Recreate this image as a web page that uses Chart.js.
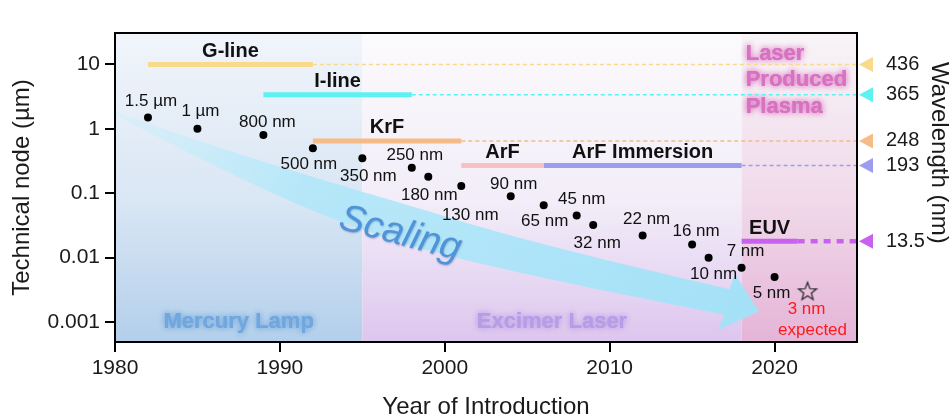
<!DOCTYPE html>
<html lang="en">
<head>
<meta charset="UTF-8">
<title>Lithography node scaling</title>
<style>
  html, body { margin: 0; padding: 0; background: #fff; }
</style>
</head>
<body>
<canvas id="chart" width="952" height="419"></canvas>
<script src="https://cdn.jsdelivr.net/npm/chart.js"></script>
<script>
// technology nodes
const years = [1982, 1985, 1989, 1992, 1995, 1998, 1999, 2001, 2004, 2006, 2008, 2009, 2012, 2015, 2016, 2018, 2020];
const nodes = [1.5, 1, 0.8, 0.5, 0.35, 0.25, 0.18, 0.13, 0.09, 0.065, 0.045, 0.032, 0.022, 0.016, 0.01, 0.007, 0.005];
const nodeLabels = ['1.5 µm', '1 µm', '800 nm', '500 nm', '350 nm', '250 nm', '180 nm', '130 nm', '90 nm',
  '65 nm', '45 nm', '32 nm', '22 nm', '16 nm', '10 nm', '7 nm', '5 nm'];
const expectedYear = [2022];
const expectedNode = [0.003];

// light sources
const sources = ['G-line', 'I-line', 'KrF', 'ArF', 'ArF Immersion', 'EUV'];
const sourceStart = [1982, 1989, 1992, 2001, 2006, 2018];
const sourceEnd = [1992, 1998, 2001, 2006, 2018, 2021.4];
const sourceLevel = [10, 3.4, 0.65, 0.27, 0.27, 0.018];

// wavelengths (right side)
const wavelengths = ['436', '365', '248', '193', '13.5'];
const wavelengthLevel = [10, 3.4, 0.65, 0.27, 0.018];
const wavelengthFrom = [1992, 1998, 2001, 2018, 2021.4];

// eras
const eras = ['Mercury Lamp', 'Excimer Laser', 'Laser Produced Plasma'];
const eraStart = [1980, 1995, 2018];
const eraEnd = [1995, 2018, 2025];

const xTicks = [1980, 1990, 2000, 2010, 2020];
const yTicks = [0.001, 0.01, 0.1, 1, 10];
const yTickLabels = ['0.001', '0.01', '0.1', '1', '10'];

const FONT = "'Liberation Sans', Arial, sans-serif";
const sourceColors = ['#f9d98a', '#5cf2f4', '#f6bb86', '#f7c0c2', '#9d9cf1', '#c862ee'];
const waveColors = ['#f9d98a', '#5cf2f4', '#f6bb86', '#9d9cf1', '#c862ee'];

// label offsets from each dot, px
const labelOffsets = [[3, -16], [3, -18], [4, -13], [-4, 16], [6, 18], [3, -12], [1, 18], [9, 29], [3, -12],
  [1, 16], [5, -16], [4, 18], [4, -16], [4, -13], [5, 17], [4, -16], [-3, 16]];

// star marker
const star = document.createElement('canvas');
star.width = 24; star.height = 24;
(function () {
  const c = star.getContext('2d');
  c.beginPath();
  for (let i = 0; i < 10; i++) {
    const r = i % 2 === 0 ? 9.5 : 4;
    const a = -Math.PI / 2 + i * Math.PI / 5;
    const px = 12 + r * Math.cos(a), py = 12.5 + r * Math.sin(a);
    if (i === 0) c.moveTo(px, py); else c.lineTo(px, py);
  }
  c.closePath();
  c.strokeStyle = '#222';
  c.lineWidth = 1.2;
  c.stroke();
})();

const datasets = [];
datasets.push({
  data: years.map((y, i) => ({ x: y, y: nodes[i] })),
  pointRadius: 4, pointBackgroundColor: '#000', pointBorderWidth: 0, showLine: false
});
datasets.push({
  data: expectedYear.map((y, i) => ({ x: y, y: expectedNode[i] })),
  pointStyle: star, pointRadius: 10, showLine: false
});
sources.forEach((s, i) => datasets.push({
  data: [{ x: sourceStart[i], y: sourceLevel[i] }, { x: sourceEnd[i], y: sourceLevel[i] }],
  showLine: true, borderColor: sourceColors[i], borderWidth: 5, pointRadius: 0, borderCapStyle: 'butt'
}));
wavelengths.forEach((w, j) => datasets.push({
  data: [{ x: wavelengthFrom[j], y: wavelengthLevel[j] }, { x: 2025, y: wavelengthLevel[j] }],
  showLine: true, borderColor: waveColors[j], pointRadius: 0,
  borderWidth: j === 4 ? 4.5 : 1.5, borderDash: j === 4 ? [7, 6] : [4, 3]
}));

function glowText(ctx, text, x, y, color, glow) {
  ctx.save();
  ctx.shadowColor = glow;
  ctx.shadowBlur = 6;
  ctx.fillStyle = color;
  ctx.fillText(text, x, y);
  ctx.fillText(text, x, y);
  ctx.restore();
}

const decor = {
  id: 'decor',
  beforeDatasetsDraw(chart) {
    const { ctx, chartArea: a } = chart;
    const X = v => chart.scales.x.getPixelForValue(v);
    const Y = v => chart.scales.y.getPixelForValue(v);
    ctx.save();
    ctx.beginPath();
    ctx.rect(a.left, a.top, a.width, a.height);
    ctx.clip();

    // era backgrounds
    const stops = [
      ['#f1f5fb', '#d9e6f4', '#b3cfeb'],
      ['#fbfafc', '#f2edf8', '#ddc6ee'],
      ['#f8f4f7', '#f0d9ea', '#e5b4d7']
    ];
    eras.forEach((e, i) => {
      const g = ctx.createLinearGradient(0, a.top, 0, a.bottom);
      g.addColorStop(0, stops[i][0]);
      g.addColorStop(0.55, stops[i][1]);
      g.addColorStop(1, stops[i][2]);
      ctx.fillStyle = g;
      ctx.fillRect(X(eraStart[i]), a.top, X(eraEnd[i]) - X(eraStart[i]), a.height);
    });

    // scaling arrow (cubic path in data space)
    const P = [[1980, 1.76], [1995.2, 0.0333], [2001.9, 0.0143], [2017.1, 0.00205]].map(p => [X(p[0]), Y(p[1])]);
    const tip = [X(2019.06), Y(0.00146)];
    const bez = t => {
      const u = 1 - t;
      const b = [u * u * u, 3 * u * u * t, 3 * u * t * t, t * t * t];
      return [b[0] * P[0][0] + b[1] * P[1][0] + b[2] * P[2][0] + b[3] * P[3][0],
              b[0] * P[0][1] + b[1] * P[1][1] + b[2] * P[2][1] + b[3] * P[3][1]];
    };
    const half = t => t < 0.5 ? 1.5 + 17.5 * Math.sin(t / 0.5 * Math.PI / 2) : 19 - 6 * (t - 0.5) / 0.5;
    const up = [], lo = [];
    const N = 60;
    for (let k = 0; k <= N; k++) {
      const t = k / N;
      const p = bez(t);
      const q = bez(Math.min(1, t + 0.005)), r = bez(Math.max(0, t - 0.005));
      let dx = q[0] - r[0], dy = q[1] - r[1];
      const L = Math.hypot(dx, dy); dx /= L; dy /= L;
      const w = half(t);
      up.push([p[0] + dy * w, p[1] - dx * w]);
      lo.push([p[0] - dy * w, p[1] + dx * w]);
    }
    const end = P[3];
    let hx = tip[0] - end[0], hy = tip[1] - end[1];
    const HL = Math.hypot(hx, hy); hx /= HL; hy /= HL;
    const grad = ctx.createLinearGradient(P[0][0], P[0][1], tip[0], tip[1]);
    grad.addColorStop(0, 'rgba(205,240,251,0.45)');
    grad.addColorStop(0.3, 'rgba(175,231,249,0.85)');
    grad.addColorStop(1, 'rgba(160,226,248,0.95)');
    ctx.beginPath();
    up.forEach((p, k) => k === 0 ? ctx.moveTo(p[0], p[1]) : ctx.lineTo(p[0], p[1]));
    ctx.lineTo(end[0] + hy * 29, end[1] - hx * 29);
    ctx.lineTo(tip[0], tip[1]);
    ctx.lineTo(end[0] - hy * 29, end[1] + hx * 29);
    for (let k = lo.length - 1; k >= 0; k--) ctx.lineTo(lo[k][0], lo[k][1]);
    ctx.closePath();
    ctx.fillStyle = grad;
    ctx.fill();

    // Scaling text
    ctx.save();
    ctx.translate(X(1997.3), Y(0.0233));
    ctx.rotate(15 * Math.PI / 180);
    ctx.font = `italic 38px ${FONT}`;
    ctx.textAlign = 'center';
    ctx.textBaseline = 'middle';
    ctx.shadowColor = 'rgba(30,70,130,0.35)';
    ctx.shadowBlur = 2;
    ctx.shadowOffsetX = 0.5;
    ctx.shadowOffsetY = 1;
    ctx.fillStyle = '#4f93d8';
    ctx.fillText('Scaling', 0, 0);
    ctx.restore();

    // era labels
    ctx.font = `bold 22px ${FONT}`;
    ctx.textAlign = 'center';
    ctx.textBaseline = 'middle';
    glowText(ctx, eras[0], X((eraStart[0] + eraEnd[0]) / 2), Y(0.001), '#72a7dd', 'rgba(114,167,221,0.8)');
    glowText(ctx, eras[1], X((eraStart[1] + eraEnd[1]) / 2), Y(0.001), '#b79de6', 'rgba(183,157,230,0.8)');
    ctx.textAlign = 'left';
    const lpp = ['Laser', 'Produced', 'Plasma'];
    lpp.forEach((t, k) => glowText(ctx, t, X(2018.25), Y(14.7) + k * 26.5, '#d872c0', 'rgba(216,114,192,0.8)'));
    ctx.restore();
  },
  afterDatasetsDraw(chart) {
    const { ctx, chartArea: a } = chart;
    const X = v => chart.scales.x.getPixelForValue(v);
    const Y = v => chart.scales.y.getPixelForValue(v);
    ctx.save();
    ctx.textAlign = 'center';
    ctx.textBaseline = 'middle';

    // node labels
    ctx.font = `17px ${FONT}`;
    ctx.fillStyle = '#111';
    nodeLabels.forEach((t, i) => {
      ctx.fillText(t, X(years[i]) + labelOffsets[i][0], Y(nodes[i]) + labelOffsets[i][1]);
    });
    ctx.fillStyle = '#ff1a1a';
    const ex = X(expectedYear[0]), ey = Y(expectedNode[0]);
    ctx.fillText('3 nm', ex - 1, ey + 18);
    ctx.fillText('expected', ex + 5, ey + 39);

    // source labels
    ctx.font = `bold 20px ${FONT}`;
    ctx.fillStyle = '#111';
    sources.forEach((s, i) => {
      ctx.fillText(s, (X(sourceStart[i]) + X(sourceEnd[i])) / 2, Y(sourceLevel[i]) - 13);
    });

    // frame
    ctx.strokeStyle = '#000';
    ctx.lineWidth = 2;
    ctx.strokeRect(a.left, a.top, a.width, a.height);

    // wavelength markers
    wavelengthLevel.forEach((v, j) => {
      const y = Y(v);
      ctx.beginPath();
      ctx.moveTo(a.right + 2, y);
      ctx.lineTo(a.right + 16, y - 7.5);
      ctx.lineTo(a.right + 16, y + 7.5);
      ctx.closePath();
      ctx.fillStyle = waveColors[j];
      ctx.fill();
    });

    // right title
    ctx.translate(939, (Y(wavelengthLevel[0]) + Y(wavelengthLevel[4])) / 2);
    ctx.rotate(Math.PI / 2);
    ctx.font = `24px ${FONT}`;
    ctx.fillStyle = '#1a1a1a';
    ctx.fillText('Wavelength (nm)', 0, 0);
    ctx.restore();
  }
};

const tickGrid = { drawOnChartArea: false, tickLength: 10, color: '#000', lineWidth: 2 };

new Chart(document.getElementById('chart'), {
  type: 'scatter',
  data: { datasets },
  options: {
    responsive: false,
    animation: false,
    layout: { padding: { top: 15, left: 0, right: 0, bottom: 0 } },
    plugins: { legend: { display: false }, tooltip: { enabled: false } },
    scales: {
      x: {
        type: 'linear', min: 1980, max: 2025, bounds: 'data',
        afterBuildTicks: s => { s.ticks = xTicks.map(v => ({ value: v })); },
        afterFit: s => { s.height = 77; },
        ticks: { font: { size: 21, family: FONT }, color: '#1a1a1a', padding: 4, maxRotation: 0,
          callback: v => String(v) },
        grid: tickGrid,
        border: { display: false },
        title: { display: true, text: 'Year of Introduction', color: '#1a1a1a',
          font: { size: 24, family: FONT, lineHeight: 1 }, padding: { top: 0, bottom: 0 } }
      },
      y: {
        type: 'logarithmic', position: 'left', min: 0.00049, max: 30.8, bounds: 'data',
        afterBuildTicks: s => { s.ticks = yTicks.map(v => ({ value: v })); },
        afterFit: s => { s.width = 115; },
        ticks: { font: { size: 21, family: FONT }, color: '#1a1a1a', padding: 5,
          callback: (v, i) => yTickLabels[i] },
        grid: tickGrid,
        border: { display: false },
        title: { display: true, text: 'Technical node (µm)', color: '#1a1a1a',
          font: { size: 24, family: FONT, lineHeight: 1 }, padding: { top: 10, bottom: 0 } }
      },
      yR: {
        type: 'logarithmic', position: 'right', min: 0.00049, max: 30.8, bounds: 'data',
        afterBuildTicks: s => { s.ticks = wavelengthLevel.map(v => ({ value: v })); },
        afterFit: s => { s.width = 95; },
        ticks: { font: { size: 20, family: FONT }, color: '#1a1a1a', padding: 21,
          callback: (v, i) => wavelengths[i] },
        grid: { display: false },
        border: { display: false }
      }
    }
  },
  plugins: [decor]
});
</script>
</body>
</html>
